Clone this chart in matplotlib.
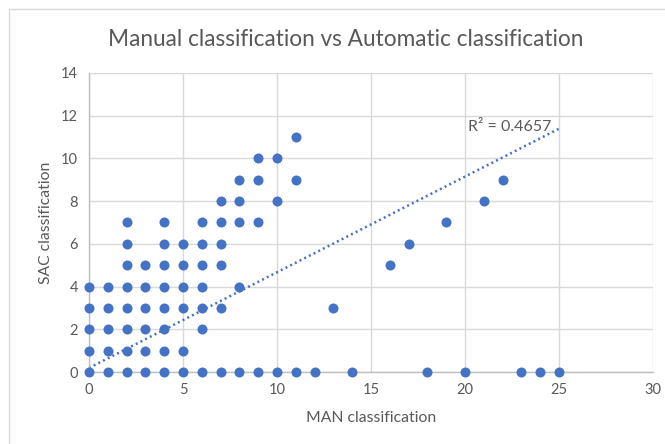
import matplotlib
matplotlib.use("Agg")
import matplotlib.pyplot as plt
from matplotlib.patches import Rectangle
import numpy as np

plt.rcParams['font.family'] = ['Lato', 'DejaVu Sans']

# Data: (MAN, SAC) pairs
man_values = [0, 0, 0, 0, 0,
              1, 1, 1, 1, 1,
              2, 2, 2, 2, 2, 2, 2, 2,
              3, 3, 3, 3, 3, 3,
              4, 4, 4, 4, 4, 4, 4, 4,
              5, 5, 5, 5, 5, 5,
              6, 6, 6, 6, 6, 6, 6,
              7, 7, 7, 7, 7, 7,
              8, 8, 8, 8, 8,
              9, 9, 9, 9,
              10, 10, 10,
              11, 11, 11,
              12, 13, 14, 16, 17, 18, 19, 20, 21, 22, 23, 24, 25]
sac_values = [0, 1, 2, 3, 4,
              0, 1, 2, 3, 4,
              0, 1, 2, 3, 4, 5, 6, 7,
              0, 1, 2, 3, 4, 5,
              0, 1, 2, 3, 4, 5, 6, 7,
              0, 1, 3, 4, 5, 6,
              0, 2, 3, 4, 5, 6, 7,
              0, 3, 5, 6, 7, 8,
              0, 4, 7, 8, 9,
              0, 7, 9, 10,
              0, 8, 10,
              0, 9, 11,
              0, 3, 0, 5, 6, 0, 7, 0, 8, 9, 0, 0, 0]
# Linear trendline (points are stacked in the source data)
trend_intercept = 0.19
trend_slope = 0.448
r2_label = "R² = 0.4657"
title = "Manual classification vs Automatic classification"
x_label = "MAN classification"
y_label = "SAC classification"
x_ticks = [0, 5, 10, 15, 20, 25, 30]
y_ticks = [0, 2, 4, 6, 8, 10, 12, 14]

blue = "#4472C4"
grey_text = "#595959"
grid_col = "#d9d9d9"

fig = plt.figure(figsize=(6.65, 4.44), dpi=100)
fig.patch.set_facecolor("white")
fig.patches.append(Rectangle((9/665, -0.1), 1.2, 1.1 - 9/444,
                             transform=fig.transFigure, fill=False,
                             edgecolor=grid_col, linewidth=1.0))

ax = fig.add_axes([89/665, 1 - 372/444, (653 - 89)/665, (372 - 73)/444])
ax.set_xlim(0, 30)
ax.set_ylim(0, 14)
ax.set_xticks(x_ticks)
ax.set_yticks(y_ticks)
ax.grid(True, color=grid_col, linewidth=1.0)
ax.set_axisbelow(True)
for side in ["top", "right"]:
    ax.spines[side].set_visible(False)
for side in ["left", "bottom"]:
    ax.spines[side].set_color("#bfbfbf")
    ax.spines[side].set_linewidth(1.0)
ax.tick_params(length=0, labelsize=10.5, labelcolor=grey_text, pad=8)

x = np.array(man_values, dtype=float)
y = np.array(sac_values, dtype=float)
xt = np.array([x.min(), x.max()])
ax.plot(xt, trend_intercept + trend_slope * xt, color=blue, linewidth=1.8,
        linestyle=(0, (0.8, 1.3)), zorder=2, clip_on=False)
ax.scatter(x, y, s=52, color=blue, zorder=3, clip_on=False, linewidths=0)

ax.text(20.15, 11.45, r2_label, color=grey_text, fontsize=11.5, ha="left", va="center")

fig.text(346 / 665, 1 - 40/444, title, ha="center", va="center",
         fontsize=16.3, color=grey_text)
ax.set_xlabel(x_label, fontsize=11.3, color=grey_text, labelpad=10)
ax.set_ylabel(y_label, fontsize=11.3, color=grey_text, labelpad=6)

fig.savefig("out.png", dpi=100)
